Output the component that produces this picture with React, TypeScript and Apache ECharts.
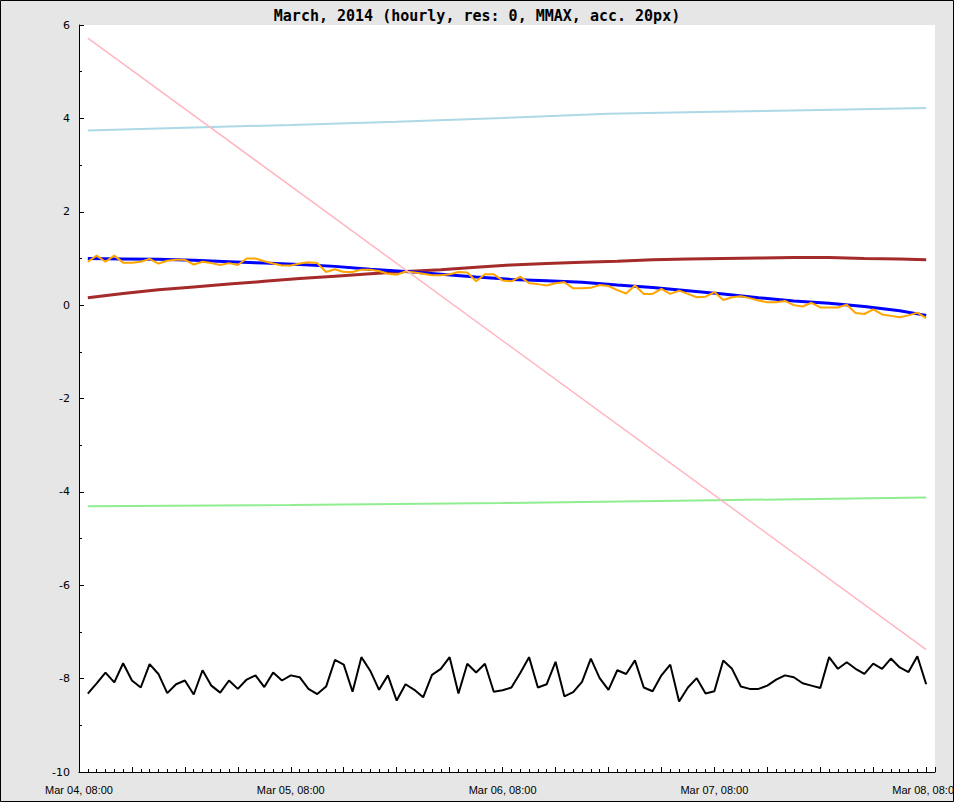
import React, { useEffect, useRef } from "react";
import * as echarts from "echarts";

const TITLE = "March, 2014 (hourly, res: 0, MMAX, acc. 20px)";
const DAY_LABELS = ["Mar 04, 08:00", "Mar 05, 08:00", "Mar 06, 08:00", "Mar 07, 08:00", "Mar 08, 08:00"];

// hourly series, hour 1..96 after Mar 04 08:00
const BLACK = [
  -8.32, -8.1, -7.87, -8.08, -7.67, -8.04, -8.19, -7.69, -7.9, -8.31,
  -8.12, -8.04, -8.34, -7.82, -8.15, -8.3, -8.04, -8.22, -8.02, -7.93,
  -8.18, -7.87, -8.04, -7.93, -7.97, -8.22, -8.33, -8.17, -7.6, -7.7,
  -8.28, -7.54, -7.83, -8.24, -7.93, -8.47, -8.12, -8.24, -8.4, -7.92,
  -7.79, -7.54, -8.32, -7.68, -7.87, -7.68, -8.28, -8.25, -8.19, -7.88,
  -7.54, -8.19, -8.12, -7.64, -8.38, -8.29, -8.07, -7.57, -7.99, -8.24,
  -7.82, -7.9, -7.61, -8.19, -8.27, -7.93, -7.7, -8.49, -8.19, -7.99,
  -8.32, -8.27, -7.61, -7.79, -8.17, -8.22, -8.22, -8.15, -8.02, -7.93,
  -7.97, -8.1, -8.15, -8.2, -7.54, -7.79, -7.65, -7.79, -7.9, -7.68,
  -7.79, -7.57, -7.76, -7.86, -7.52, -8.12,
];

const ORANGE = [
  0.93, 1.06, 0.93, 1.06, 0.91, 0.91, 0.93, 0.99, 0.89, 0.95,
  0.97, 0.97, 0.87, 0.93, 0.9, 0.86, 0.9, 0.86, 1.0, 1.0,
  0.94, 0.89, 0.85, 0.85, 0.89, 0.92, 0.9, 0.71, 0.77, 0.71,
  0.71, 0.76, 0.76, 0.73, 0.67, 0.65, 0.72, 0.7, 0.67, 0.64,
  0.64, 0.66, 0.71, 0.7, 0.51, 0.66, 0.66, 0.53, 0.51, 0.61,
  0.47, 0.45, 0.42, 0.47, 0.49, 0.36, 0.36, 0.37, 0.43, 0.41,
  0.32, 0.25, 0.42, 0.24, 0.24, 0.35, 0.24, 0.31, 0.24, 0.17,
  0.18, 0.28, 0.11, 0.17, 0.19, 0.15, 0.1, 0.06, 0.06, 0.09,
  0.0, -0.03, 0.05, -0.05, -0.05, -0.05, 0.01, -0.17, -0.19, -0.09,
  -0.2, -0.23, -0.26, -0.22, -0.16, -0.28,
];

// smooth series, sampled at these hours
const SAMPLE_HOURS = [1, 5, 9, 13, 17, 21, 25, 29, 33, 37, 41, 45, 49, 53, 57, 61, 65, 69, 73, 77, 81, 85, 89, 93, 96];
const BLUE = [1.0, 0.99, 0.98, 0.96, 0.93, 0.9, 0.87, 0.83, 0.77, 0.72, 0.66, 0.6, 0.55, 0.52, 0.49, 0.43, 0.38, 0.31, 0.24, 0.16, 0.09, 0.04, -0.03, -0.12, -0.22];
const BROWN = [0.16, 0.25, 0.33, 0.39, 0.45, 0.51, 0.57, 0.62, 0.67, 0.72, 0.76, 0.81, 0.86, 0.89, 0.92, 0.94, 0.97, 0.99, 1.0, 1.01, 1.02, 1.02, 1.0, 0.99, 0.97];

const LIGHTBLUE_HOURS = [1, 12, 24, 36, 48, 60, 72, 84, 96];
const LIGHTBLUE = [3.74, 3.8, 3.86, 3.93, 4.01, 4.1, 4.14, 4.18, 4.22];

const GREEN_HOURS = [1, 24, 48, 72, 96];
const GREEN = [-4.31, -4.28, -4.24, -4.18, -4.12];

const PINK_HOURS = [1, 96];
const PINK = [5.72, -7.38];

const pairs = (h: number[], v: number[]) => h.map((x, i) => [x, v[i]]);
const hourly = (v: number[]) => v.map((y, i) => [i + 1, y]);

export default function App() {
  const ref = useRef<HTMLDivElement>(null);
  useEffect(() => {
    if (!ref.current) return;
    const chart = echarts.init(ref.current, null, { renderer: "svg" });
    const line = (name: string, data: number[][], color: string, width: number) => ({
      name,
      type: "line",
      data,
      showSymbol: false,
      symbol: "none",
      lineStyle: { color, width },
      itemStyle: { color },
    });
    chart.setOption({
      animation: false,
      backgroundColor: "#e6e6e6",
      title: {
        text: TITLE,
        left: "center",
        top: 3,
        textStyle: {
          fontFamily: "DejaVu Sans Mono",
          fontSize: 15,
          fontWeight: "bold",
          color: "#000",
        },
      },
      graphic: [
        {
          type: "rect",
          shape: { x: 0.5, y: 0.5, width: 953, height: 801 },
          style: { fill: "none", stroke: "#000", lineWidth: 1 },
          silent: true,
          z: 100,
        },
      ],
      grid: {
        left: 79,
        right: 19,
        top: 25,
        bottom: 30,
        outerBoundsMode: "none",
        containLabel: false,
        show: true,
        backgroundColor: "#ffffff",
        borderWidth: 0,
      },
      xAxis: {
        type: "value",
        min: 0,
        max: 97,
        interval: 6,
        splitLine: { show: false },
        axisLine: { show: true, onZero: false, lineStyle: { color: "#000", width: 1 } },
        axisTick: { show: true, inside: true, length: 5, lineStyle: { color: "#000" } },
        minorTick: { show: true, splitNumber: 6, length: 3, lineStyle: { color: "#000" } },
        axisLabel: {
          color: "#000",
          fontFamily: "Liberation Sans",
          fontSize: 11,
          margin: 12,
          hideOverlap: false,
          showMaxLabel: false,
          formatter: (v: number) => (v % 24 === 0 ? DAY_LABELS[v / 24] : ""),
        },
      },
      yAxis: {
        type: "value",
        min: -10,
        max: 6,
        interval: 2,
        splitLine: { show: false },
        axisLine: { show: true, onZero: false, lineStyle: { color: "#000", width: 1 } },
        axisTick: { show: true, inside: true, length: 5, lineStyle: { color: "#000" } },
        minorTick: { show: true, splitNumber: 2, length: 3, lineStyle: { color: "#000" } },
        axisLabel: {
          color: "#000",
          fontFamily: "DejaVu Sans",
          fontSize: 11,
          margin: 9,
        },
      },
      series: [
        line("lightblue", pairs(LIGHTBLUE_HOURS, LIGHTBLUE), "#add8e6", 2),
        line("green", pairs(GREEN_HOURS, GREEN), "#90ee90", 2),
        line("brown", pairs(SAMPLE_HOURS, BROWN), "#a52a2a", 3),
        line("blue", pairs(SAMPLE_HOURS, BLUE), "#0000ff", 3),
        line("orange", hourly(ORANGE), "#ffa500", 2),
        line("black", hourly(BLACK), "#000000", 2),
        line("pink", pairs(PINK_HOURS, PINK), "#ffb6c1", 1.5),
      ],
    });
    return () => chart.dispose();
  }, []);
  return (
    <div
      ref={ref}
      style={{ position: "fixed", left: 0, top: 0, width: 954, height: 802 }}
    />
  );
}
